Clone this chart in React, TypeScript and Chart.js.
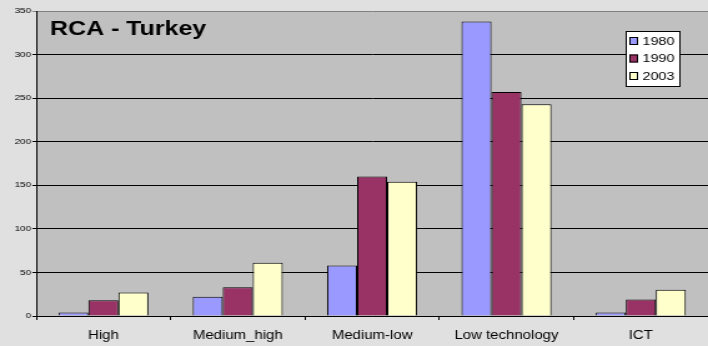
import React, { useEffect, useRef } from "react";
import { Chart, registerables } from "chart.js";

Chart.register(...registerables);

const categories = ["High", "Medium_high", "Medium-low", "Low technology", "ICT"];
const seriesLabels = ["1980", "1990", "2003"];
const values1980 = [4, 22, 58, 338, 4];
const values1990 = [18, 33, 160, 257, 19];
const values2003 = [27, 61, 154, 243, 30];
const yTickValues = [0, 50, 100, 150, 200, 250, 300, 350];
const chartTitle = "RCA - Turkey";

const seriesColors = ["#9999FF", "#993366", "#FFFFCC"];

const STRETCH = 708 / 567;
const CW = 567;
const CH = 346;
const FONT = "'Liberation Sans', Arial, sans-serif";

export default function App() {
  const ref = useRef<HTMLCanvasElement | null>(null);

  useEffect(() => {
    document.body.style.margin = "0";
    document.body.style.background = "#e0e0e0";
    const canvas = ref.current;
    if (!canvas) return;

    const plotBg = {
      id: "plotBg",
      beforeDraw(chart: any) {
        const { ctx, chartArea } = chart;
        ctx.save();
        ctx.fillStyle = "#C0C0C0";
        ctx.fillRect(chartArea.left, chartArea.top, chartArea.right - chartArea.left, chartArea.bottom - chartArea.top);
        ctx.restore();
      },
    };

    const overlay = {
      id: "overlay",
      afterDraw(chart: any) {
        const { ctx } = chart;
        ctx.save();
        // title
        ctx.fillStyle = "#000";
        ctx.font = `bold 20px ${FONT}`;
        ctx.textBaseline = "alphabetic";
        ctx.textAlign = "left";
        ctx.fillText(chartTitle, 40, 34.5);
        // legend
        const bx = 501, by = 31, bw = 43, bh = 55;
        ctx.fillStyle = "#fff";
        ctx.fillRect(bx, by, bw, bh);
        ctx.strokeStyle = "#000";
        ctx.lineWidth = 1;
        ctx.strokeRect(bx + 0.5, by + 0.5, bw, bh);
        const rowsY = [41, 58.5, 76];
        chart.data.datasets.forEach((ds: any, i: number) => {
          const cy = rowsY[i];
          ctx.fillStyle = ds.backgroundColor;
          ctx.fillRect(504, cy - 4, 7, 8);
          ctx.strokeStyle = "#000";
          ctx.strokeRect(504.5, cy - 3.5, 6, 7);
          ctx.fillStyle = "#000";
          ctx.font = `11.5px ${FONT}`;
          ctx.textBaseline = "middle";
          ctx.textAlign = "left";
          ctx.fillText(ds.label, 514.5, cy + 0.5);
        });
        ctx.restore();
      },
    };

    const chart = new Chart(canvas, {
      type: "bar",
      data: {
        labels: categories,
        datasets: [values1980, values1990, values2003].map((vals, i) => ({
          label: seriesLabels[i],
          data: vals,
          backgroundColor: seriesColors[i],
          borderColor: "#000",
          borderWidth: 1,
          categoryPercentage: 0.67,
          barPercentage: 1.0,
        })),
      },
      options: {
        responsive: false,
        animation: false,
        layout: { padding: { top: 11, right: 0, left: 0, bottom: 0 } },
        plugins: {
          legend: { display: false },
          title: { display: false },
          tooltip: { enabled: false },
        },
        scales: {
          x: {
            afterFit(scale: any) {
              scale.height = 30;
            },
            grid: {
              display: true,
              drawOnChartArea: false,
              drawTicks: true,
              tickLength: 4,
              color: "#000",
              lineWidth: 1,
            },
            border: { display: true, color: "#000", width: 1 },
            ticks: {
              color: "#000",
              font: { family: FONT, size: 12 },
              padding: 8,
              maxRotation: 0,
              autoSkip: false,
            },
          },
          y: {
            min: 0,
            max: 350,
            afterFit(scale: any) {
              scale.width = 29;
            },
            afterBuildTicks(scale: any) {
              scale.ticks = yTickValues.map((v) => ({ value: v }));
            },
            grid: {
              color: (c: any) => (c.tick && c.tick.value === 350 ? "#808080" : "#000"),
              lineWidth: 1,
              drawTicks: true,
              tickLength: 3,
            },
            border: { display: true, color: "#000", width: 1 },
            ticks: {
              color: "#000",
              font: { family: FONT, size: 8 },
              padding: 1,
            },
          },
        },
      },
      plugins: [plotBg, overlay],
    });

    return () => chart.destroy();
  }, []);

  return (
    <div style={{ width: 708, height: 346, overflow: "hidden", background: "#e0e0e0" }}>
      <div style={{ width: CW, height: CH, transform: `scaleX(${STRETCH})`, transformOrigin: "0 0" }}>
        <canvas ref={ref} width={CW} height={CH} style={{ display: "block" }} />
      </div>
    </div>
  );
}
